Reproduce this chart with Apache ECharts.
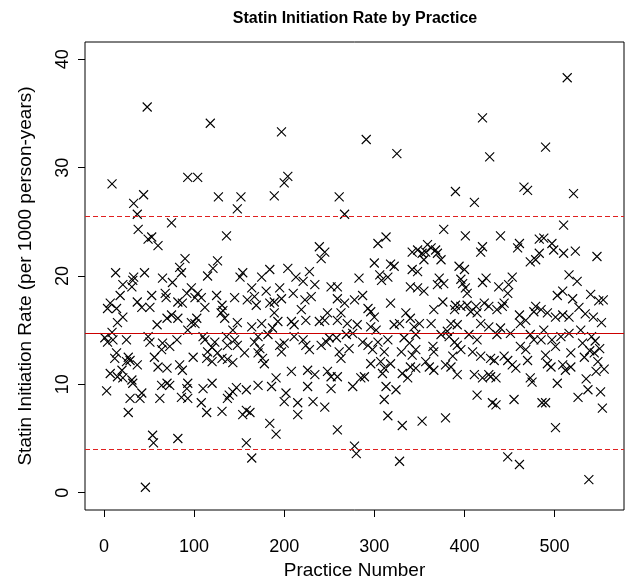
<!DOCTYPE html>
<html><head><meta charset="utf-8">
<script src="https://cdn.jsdelivr.net/npm/echarts@6/dist/echarts.min.js"></script>
<style>html,body{margin:0;padding:0;background:#fff}#c{width:625px;height:577px}</style>
</head><body><div id="c"></div>
<script>
// [practice number, statin initiation rate]
const practiceRate = [
[48,35.6],[9,28.5],[44,27.5],[33,26.7],[37,25.7],[38,24.3],[49,23.4],[53,23.6],[60,22.8],[75,24.9],[13,20.3],[33,19.9],[45,20.3],[65,19.8],[21,19.2],[32,19.6],[76,19.4],[18,18.2],[31,19.0],[53,18.2],[68,18.4],[69,18.0],[7,17.5],[4,17.0],[14,17.0],[37,17.6],[42,17.1],[51,17.1],[21,16.2],[15,15.7],[70,16.1],[75,16.4],[59,15.5],[9,14.8],[1,14.3],[4,13.9],[10,14.1],[25,14.1],[49,14.4],[51,13.9],[65,13.8],[64,13.2],[73,13.5],[14,12.9],[12,12.4],[27,12.5],[25,12.1],[29,12.2],[56,12.5],[37,11.8],[60,11.6],[70,11.5],[7,11.0],[20,11.3],[15,10.7],[21,10.6],[31,10.4],[32,10.1],[64,9.9],[70,10.1],[73,9.9],[3,9.4],[29,8.7],[42,9.2],[40,8.7],[62,8.7],[27,7.4],[54,5.3],[55,4.6],[46,0.5],
[118,34.1],[93,29.1],[104,29.1],[127,27.3],[152,27.3],[148,26.2],[136,23.7],[90,21.6],[84,20.8],[86,20.3],[126,21.4],[121,20.7],[115,20.0],[154,20.3],[151,19.9],[164,18.9],[97,18.9],[92,18.4],[104,18.4],[101,18.0],[108,18.0],[125,18.2],[145,18.0],[159,17.8],[82,17.6],[87,17.5],[112,17.1],[131,17.3],[132,16.8],[130,16.6],[134,16.1],[82,16.1],[103,16.1],[101,15.6],[97,15.7],[148,15.7],[164,15.3],[93,15.0],[143,15.0],[81,14.1],[110,14.4],[112,14.1],[123,13.9],[145,14.1],[136,14.4],[137,13.6],[148,13.6],[120,13.4],[115,13.0],[126,12.9],[156,12.9],[99,12.5],[114,12.4],[131,12.4],[137,12.3],[143,12.0],[120,12.1],[84,11.8],[87,11.3],[93,10.1],[92,9.6],[110,9.6],[120,10.1],[147,9.7],[139,9.0],[158,9.5],[137,8.7],[143,9.3],[86,8.8],[93,8.7],[108,8.3],[114,7.4],[131,7.5],[154,7.2],[162,7.4],[158,7.6],[82,5.0],[158,4.6],[164,3.2],
[197,33.3],[204,29.2],[200,28.6],[189,27.4],[239,22.7],[245,22.2],[241,21.6],[184,20.6],[204,20.7],[213,19.9],[228,20.4],[175,19.9],[221,19.5],[234,19.2],[195,18.9],[180,18.6],[210,18.4],[252,19.0],[167,18.1],[197,17.9],[223,17.8],[230,18.1],[184,17.5],[189,17.6],[169,17.3],[219,16.9],[248,16.6],[189,16.6],[224,15.9],[193,15.8],[208,15.8],[211,15.5],[239,15.8],[245,15.9],[175,15.6],[187,15.2],[182,14.6],[171,14.4],[167,13.9],[211,14.4],[221,14.1],[224,13.6],[228,13.2],[195,13.6],[200,13.8],[197,13.0],[241,13.6],[247,13.9],[250,14.3],[173,13.3],[171,12.9],[176,12.4],[178,11.9],[208,11.2],[226,11.3],[234,10.9],[248,11.2],[252,10.7],[191,10.6],[171,9.9],[186,9.8],[226,9.8],[252,9.6],[202,9.2],[200,8.4],[215,8.3],[232,8.4],[245,7.9],[215,7.2],[184,6.4],[191,5.4],
[291,32.6],[325,31.3],[261,27.3],[267,25.7],[313,23.6],[304,23.0],[342,22.2],[300,21.2],[318,21.1],[322,20.9],[306,20.1],[315,19.9],[283,19.8],[342,20.6],[308,19.6],[340,19.0],[259,19.0],[287,18.2],[278,17.8],[259,17.9],[267,17.5],[318,17.5],[293,17.0],[263,16.6],[300,16.2],[296,16.7],[335,16.6],[340,16.1],[259,15.9],[270,15.6],[281,15.5],[296,15.3],[302,15.0],[322,15.5],[328,15.6],[269,14.6],[258,14.3],[276,14.7],[287,13.9],[293,13.6],[304,13.9],[315,14.1],[333,14.3],[339,13.8],[272,13.3],[261,13.0],[263,12.4],[298,13.2],[311,13.0],[330,13.0],[342,12.7],[296,11.9],[307,12.1],[318,11.9],[311,11.5],[309,11.0],[340,11.6],[331,11.0],[337,10.6],[259,10.7],[276,9.8],[285,10.6],[289,10.7],[313,9.8],[324,9.5],[311,8.6],[315,7.1],[331,6.2],[259,5.8],[278,4.3],[280,3.6],[328,2.9],
[420,34.6],[428,31.0],[390,27.8],[411,26.8],[377,24.3],[401,23.7],[420,22.7],[418,22.2],[348,22.4],[353,22.1],[359,22.9],[357,22.2],[363,22.6],[368,22.4],[370,22.1],[355,21.5],[374,21.5],[348,20.4],[394,20.9],[400,20.6],[372,19.8],[396,19.7],[424,19.8],[370,19.2],[377,19.3],[398,19.3],[420,19.4],[355,18.6],[348,18.9],[401,18.9],[403,18.4],[376,17.6],[366,16.9],[390,17.3],[389,16.9],[396,17.2],[403,17.3],[413,17.2],[422,17.5],[427,17.2],[407,16.7],[414,16.6],[350,15.6],[363,15.6],[385,15.6],[392,15.5],[418,15.6],[427,15.3],[344,15.3],[346,14.6],[374,14.6],[381,14.9],[383,14.4],[405,14.6],[389,13.9],[414,14.1],[392,13.6],[396,13.2],[365,13.5],[366,13.0],[346,13.2],[409,13.0],[418,12.6],[429,12.4],[387,12.6],[357,12.1],[361,11.6],[366,11.3],[379,11.8],[385,11.6],[346,11.5],[392,10.9],[411,10.9],[420,10.6],[427,10.9],[429,10.7],[414,9.0],[431,8.3],[353,6.6],[379,6.9],
[514,38.3],[490,31.9],[466,28.2],[470,27.9],[521,27.6],[510,24.7],[440,23.7],[461,23.0],[483,23.4],[488,23.5],[497,23.0],[459,22.6],[499,22.4],[510,22.1],[483,22.1],[473,21.3],[479,21.5],[453,19.9],[516,20.1],[438,19.0],[449,19.2],[448,18.4],[503,18.2],[509,18.6],[520,17.9],[444,17.5],[436,16.9],[442,17.2],[479,17.2],[485,16.9],[477,16.7],[461,16.4],[492,16.6],[501,16.2],[509,16.4],[516,16.2],[468,15.9],[462,15.6],[440,15.2],[451,14.7],[436,14.6],[488,15.0],[473,14.6],[477,14.1],[485,14.1],[497,14.1],[507,14.4],[516,14.7],[462,13.5],[468,13.2],[501,13.5],[518,12.9],[444,12.6],[448,12.2],[490,12.7],[433,12.2],[470,12.2],[492,11.9],[496,11.6],[453,11.8],[457,11.5],[509,11.8],[512,11.3],[518,11.6],[435,10.6],[473,10.6],[475,10.2],[503,10.1],[455,8.6],[486,8.3],[490,8.3],[435,8.1],[501,6.0],[448,3.3],[461,2.6],
[523,22.3],[525,19.5],[527,17.1],[529,15.0],[531,13.8],[533,12.5],[535,10.5],[537,9.5],[538,1.2],[540,18.3],[541,14.4],[543,16.2],[544,12.9],[546,11.2],[547,21.8],[549,17.7],[550,13.3],[551,9.3],[552,15.7],[553,7.8],[554,17.8],[555,11.4],[526,8.8],[534,16.5],[539,13.1],[545,14.0],[548,12.1]
];
const meanRate = 14.72;
const upperLimit = 25.47;
const lowerLimit = 4.0;
const xRange = [-21, 577];
const yRange = [-1.6, 41.6];
const xTicks = [0, 100, 200, 300, 400, 500];
const yTicks = [0, 10, 20, 30, 40];
const chartTitle = 'Statin Initiation Rate by Practice';
const xTitle = 'Practice Number';
const yTitle = 'Statin Initiation Rate (per 1000 person-years)';

const FONT = '"Liberation Sans", Arial, sans-serif';
const chart = echarts.init(document.getElementById('c'), null, {renderer: 'canvas'});
chart.setOption({
  animation: false,
  backgroundColor: '#fff',
  graphic: [{
    type: 'text', x: 355, y: 19,
    style: {text: chartTitle, fill: '#000', textAlign: 'center', textVerticalAlign: 'middle',
      font: 'bold 16px ' + FONT}
  }],
  grid: {left: 85, top: 42, width: 539, height: 468, show: true, borderColor: '#000', borderWidth: 1,
    backgroundColor: 'transparent', containLabel: false, outerBoundsMode: 'none'},
  xAxis: {
    type: 'value', min: xRange[0], max: xRange[1],
    axisLine: {show: false, onZero: false}, splitLine: {show: false},
    axisTick: {show: true, length: 7, customValues: xTicks, lineStyle: {color: '#000', width: 1}},
    axisLabel: {customValues: xTicks, fontSize: 18, color: '#000', fontFamily: FONT, margin: 28},
    name: xTitle, nameLocation: 'middle', nameGap: 48,
    nameTextStyle: {fontSize: 19, color: '#000', fontFamily: FONT}
  },
  yAxis: {
    type: 'value', min: yRange[0], max: yRange[1],
    axisLine: {show: false, onZero: false}, splitLine: {show: false},
    axisTick: {show: true, length: 7, customValues: yTicks, lineStyle: {color: '#000', width: 1}},
    axisLabel: {customValues: yTicks, rotate: 90, fontSize: 18, color: '#000', fontFamily: FONT, margin: 13},
    name: yTitle, nameLocation: 'middle', nameGap: 50, nameRotate: 90,
    nameTextStyle: {fontSize: 19, color: '#000', fontFamily: FONT}
  },
  series: [{
    type: 'scatter',
    data: practiceRate,
    symbol: 'path://M0,0L10,10M10,0L0,10',
    symbolSize: 9,
    itemStyle: {color: 'rgba(0,0,0,0)', borderColor: '#000', borderWidth: 1.1, opacity: 1},
    emphasis: {disabled: true},
    markLine: {
      silent: true, symbol: 'none', label: {show: false}, animation: false,
      data: [
        {yAxis: meanRate, lineStyle: {color: '#cc0000', type: 'solid', width: 1.2}},
        {yAxis: upperLimit, lineStyle: {color: '#e02020', type: [5, 3], width: 1.2}},
        {yAxis: lowerLimit, lineStyle: {color: '#e02020', type: [5, 3], width: 1.2}}
      ]
    }
  }]
});
</script></body></html>
